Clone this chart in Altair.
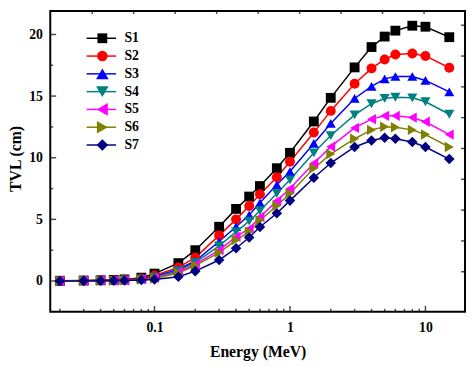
import altair as alt
import pandas as pd

energy = [0.02, 0.03, 0.04, 0.05, 0.06, 0.08, 0.1, 0.15, 0.2, 0.3, 0.4, 0.5, 0.6, 0.8,
          1, 1.5, 2, 3, 4, 5, 6, 8, 10, 15]
series_names = ["S1", "S2", "S3", "S4", "S5", "S6", "S7"]
s1 = [0.02, 0.04, 0.06, 0.09, 0.13, 0.27, 0.6, 1.45, 2.5, 4.4, 5.85, 6.85, 7.7, 9.15,
      10.4, 12.94, 14.86, 17.33, 18.98, 19.83, 20.31, 20.71, 20.63, 19.78]
s2 = [0.01, 0.03, 0.05, 0.07, 0.1, 0.2, 0.45, 1.1, 1.9, 3.7, 5.0, 6.08, 7.03, 8.42,
      9.67, 12.04, 13.8, 16.0, 17.25, 17.97, 18.37, 18.45, 18.26, 17.3]
s3 = [0.01, 0.02, 0.04, 0.06, 0.08, 0.17, 0.35, 0.95, 1.62, 3.2, 4.4, 5.35, 6.34, 7.8,
      8.88, 11.16, 12.78, 14.81, 15.79, 16.4, 16.59, 16.59, 16.27, 15.34]
s4 = [0.01, 0.02, 0.03, 0.05, 0.07, 0.15, 0.3, 0.82, 1.5, 2.85, 3.99, 4.86, 5.7, 7.1,
      8.21, 10.4, 11.8, 13.48, 14.38, 14.81, 14.91, 14.86, 14.54, 13.53]
s5 = [0.01, 0.02, 0.03, 0.04, 0.06, 0.13, 0.25, 0.72, 1.35, 2.5, 3.59, 4.25, 5.2, 6.5,
      7.5, 9.55, 10.9, 12.42, 13.13, 13.4, 13.4, 13.26, 12.92, 11.88]
s6 = [0.01, 0.02, 0.03, 0.04, 0.05, 0.12, 0.2, 0.65, 1.25, 2.3, 3.32, 3.99, 4.92, 6.1,
      7.1, 9.14, 10.3, 11.54, 12.26, 12.52, 12.47, 12.26, 11.88, 10.87]
s7 = [0.0, 0.01, 0.02, 0.03, 0.04, 0.08, 0.12, 0.35, 0.8, 1.7, 2.66, 3.53, 4.38, 5.5,
      6.52, 8.38, 9.57, 10.87, 11.4, 11.62, 11.54, 11.27, 10.87, 9.89]
series_values = [s1, s2, s3, s4, s5, s6, s7]

colors = ["#000000", "#FF0000", "#0000FF", "#008080", "#FF00FF", "#808000", "#000080"]
shapes = ["square", "circle", "triangle-up", "triangle-down", "triangle-left",
          "triangle-right", "diamond"]
marker_sizes = [100, 115, 165, 165, 165, 165, 140]

x_major = [0.1, 1, 10]
x_minor = [0.02, 0.03, 0.04, 0.05, 0.06, 0.07, 0.08, 0.09,
           0.2, 0.3, 0.4, 0.5, 0.6, 0.7, 0.8, 0.9,
           2, 3, 4, 5, 6, 7, 8, 9]
y_major = [0, 5, 10, 15, 20]
y_minor = [2.5, 7.5, 12.5, 17.5]
top_ticks = [0.0347, 0.0702, 0.1422, 0.2875, 0.5823, 1.178, 2.385, 4.824, 9.77]
right_ticks = [20.75, 18.25, 15.75, 13.25, 10.75, 8.25, 5.75, 3.25, 0.75]

rows = []
for name, vals in zip(series_names, series_values):
    for e, v in zip(energy, vals):
        rows.append({"energy": e, "tvl": v, "series": name})
df = pd.DataFrame(rows)

W, H = 422, 306
FONT = "Liberation Serif"

xscale = alt.Scale(type="log", domain=[0.017, 19.6], nice=False)
yscale = alt.Scale(domain=[-2.5, 21.9], nice=False, zero=False)

x_axis = alt.Axis(values=x_major, format="~g", title="Energy (MeV)", grid=False,
                  domain=False, ticks=False, tickSize=0, labelPadding=9,
                  labelFont=FONT, labelFontSize=14, labelFontWeight="bold",
                  labelColor="black", titleFont=FONT, titleFontSize=16,
                  titleFontWeight="bold", titleColor="black", titleY=45,
                  titleBaseline="alphabetic")
y_axis = alt.Axis(values=y_major, format="d", title="TVL (cm)", grid=False,
                  domain=False, ticks=False, tickSize=0, labelPadding=8,
                  labelFont=FONT, labelFontSize=14, labelFontWeight="bold",
                  labelColor="black", titleFont=FONT, titleFontSize=16,
                  titleFontWeight="bold", titleColor="black", titleX=-35,
                  titleY=150, titleAngle=270, titleAlign="center",
                  titleBaseline="middle")

x_enc = alt.X("energy:Q", scale=xscale, axis=x_axis)
y_enc = alt.Y("tvl:Q", scale=yscale, axis=y_axis)
color_enc = alt.Color("series:N", scale=alt.Scale(domain=series_names, range=colors),
                      legend=None)

lines = alt.Chart(df).mark_line(strokeWidth=1.5).encode(x=x_enc, y=y_enc, color=color_enc)
points = alt.Chart(df).mark_point(filled=True, opacity=1).encode(
    x=x_enc, y=y_enc, color=color_enc,
    shape=alt.Shape("series:N", scale=alt.Scale(domain=series_names, range=shapes),
                    legend=None),
    size=alt.Size("series:N", scale=alt.Scale(domain=series_names, range=marker_sizes),
                  legend=None))

def xticks(vals, length, ypix):
    d = pd.DataFrame({"energy": vals})
    return alt.Chart(d).mark_tick(orient="vertical", size=length, thickness=1.5,
                                  color="black").encode(x=x_enc, y=alt.value(ypix))

def yticks(vals, length, xpix):
    d = pd.DataFrame({"tvl": vals})
    return alt.Chart(d).mark_tick(orient="horizontal", size=length, thickness=1.5,
                                  color="black").encode(y=y_enc, x=alt.value(xpix))

tick_layers = [
    xticks(x_major, 6, H - 3),
    xticks(x_minor, 3, H - 1.5),
    xticks(top_ticks, 3, 1.5),
    yticks(y_major, 6, 3),
    yticks(y_minor, 3, 1.5),
    yticks(right_ticks, 4, W - 2),
]

legend_layers = []
one = alt.Data(values=[{"a": 1}])
for i, (name, c, shp, ms) in enumerate(zip(series_names, colors, shapes, marker_sizes)):
    ly = 27.7 + 18.1 * i
    legend_layers.append(alt.Chart(one).mark_rule(strokeWidth=1.5, color=c).encode(
        x=alt.value(37), x2=alt.value(67), y=alt.value(ly)))
    legend_layers.append(alt.Chart(one).mark_point(filled=True, size=ms, opacity=1,
                                                   shape=shp, color=c).encode(
        x=alt.value(53), y=alt.value(ly)))
    legend_layers.append(alt.Chart(one).mark_text(align="left", baseline="middle",
                                                  font=FONT, fontSize=14,
                                                  fontWeight="bold", color="black").encode(
        x=alt.value(75.5), y=alt.value(ly), text=alt.value(name)))

chart = alt.layer(lines, points, *tick_layers, *legend_layers).properties(
    width=W, height=H,
    autosize=alt.AutoSizeParams(type="none"),
    padding={"left": 43, "top": 0, "right": 1, "bottom": 50},
    background="white",
).configure_view(stroke="black", strokeWidth=2)

chart.save("out.html", embed_options={"renderer": "svg", "actions": False})
